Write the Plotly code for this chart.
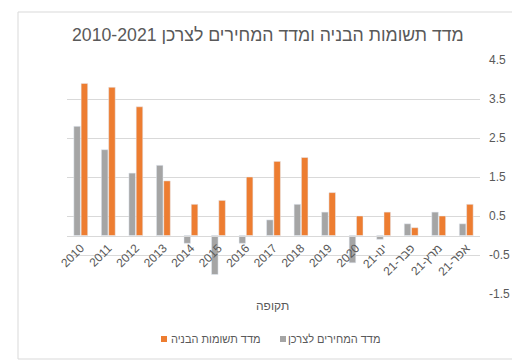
import plotly.graph_objects as go

# ---- data ----
categories = ["2010", "2011", "2012", "2013", "2014", "2015", "2016", "2017",
              "2018", "2019", "2020", "21-ינו", "21-פבר", "21-מרץ", "21-אפר"]
cpi = [2.8, 2.2, 1.6, 1.8, -0.2, -1.0, -0.2, 0.4, 0.8, 0.6, -0.7, -0.1, 0.3, 0.6, 0.3]
construction = [3.9, 3.8, 3.3, 1.4, 0.8, 0.9, 1.5, 1.9, 2.0, 1.1, 0.5, 0.6, 0.2, 0.5, 0.8]
series_names = ["מדד המחירים לצרכן", "מדד תשומות הבניה"]
y_tickvals = [-1.5, -0.5, 0.5, 1.5, 2.5, 3.5, 4.5]
y_ticktext = ["-1.5", "-0.5", "0.5", "1.5", "2.5", "3.5", "4.5"]
title_text = "2010-2021 מדד תשומות הבניה ומדד המחירים לצרכן"
x_title = "תקופה"

GRAY = "#A5A5A5"
ORANGE = "#ED7D31"
TEXT = "#595959"
GRID = "#D9D9D9"
FONT = "Liberation Sans, Arial, sans-serif"

W, H = 520, 361
L, R, T, B = 59, 48, 52, 75
PW, PH = W - L - R, H - T - B


def px(x):
    return (x - L) / PW


def py(y):
    return (H - B - y) / PH


fig = go.Figure()
fig.add_trace(go.Bar(x=categories, y=cpi, name=series_names[0],
                     marker_color=GRAY, showlegend=False))
fig.add_trace(go.Bar(x=categories, y=construction, name=series_names[1],
                     marker_color=ORANGE, showlegend=False))

fig.update_layout(
    width=W, height=H,
    margin=dict(l=L, r=R, t=T, b=B),
    paper_bgcolor="white", plot_bgcolor="white",
    barmode="group", bargap=0.47, bargroupgap=0.1,
    font=dict(family=FONT, color=TEXT, size=12),
    xaxis=dict(
        type="category", tickangle=-45, anchor="free", position=0.25,
        showline=True, linecolor=GRID, linewidth=1, showgrid=False,
        ticks="", tickfont=dict(size=12, color=TEXT),
    ),
    yaxis=dict(
        side="right", range=[-1.5, 4.5], tickvals=y_tickvals, ticktext=y_ticktext,
        showgrid=True, gridcolor=GRID, gridwidth=1, zeroline=False,
        ticks="", ticklabelstandoff=8, tickfont=dict(size=12, color=TEXT),
    ),
)

annotations = [
    dict(text=title_text, x=px(260), y=py(27), xref="paper", yref="paper",
         xanchor="center", yanchor="middle", showarrow=False,
         font=dict(size=17.7, color=TEXT)),
    dict(text=x_title, x=px(264), y=py(298), xref="paper", yref="paper",
         xanchor="center", yanchor="middle", showarrow=False,
         font=dict(size=12, color=TEXT)),
    dict(text=series_names[1], x=px(161), y=py(331), xref="paper", yref="paper",
         xanchor="left", yanchor="middle", showarrow=False,
         font=dict(size=11, color=TEXT)),
    dict(text=series_names[0], x=px(278), y=py(331), xref="paper", yref="paper",
         xanchor="left", yanchor="middle", showarrow=False,
         font=dict(size=11, color=TEXT)),
]
fig.update_layout(annotations=annotations)

shapes = [
    dict(type="rect", xref="paper", yref="paper", x0=px(10), x1=px(513),
         y0=py(351), y1=py(4), line=dict(color=GRID, width=1), layer="below"),
    dict(type="rect", xref="paper", yref="paper", x0=px(153), x1=px(159),
         y0=py(334), y1=py(328), line=dict(width=0), fillcolor=ORANGE),
    dict(type="rect", xref="paper", yref="paper", x0=px(272), x1=px(278),
         y0=py(334), y1=py(328), line=dict(width=0), fillcolor=GRAY),
]
fig.update_layout(shapes=shapes)

fig.write_html("out.html")
